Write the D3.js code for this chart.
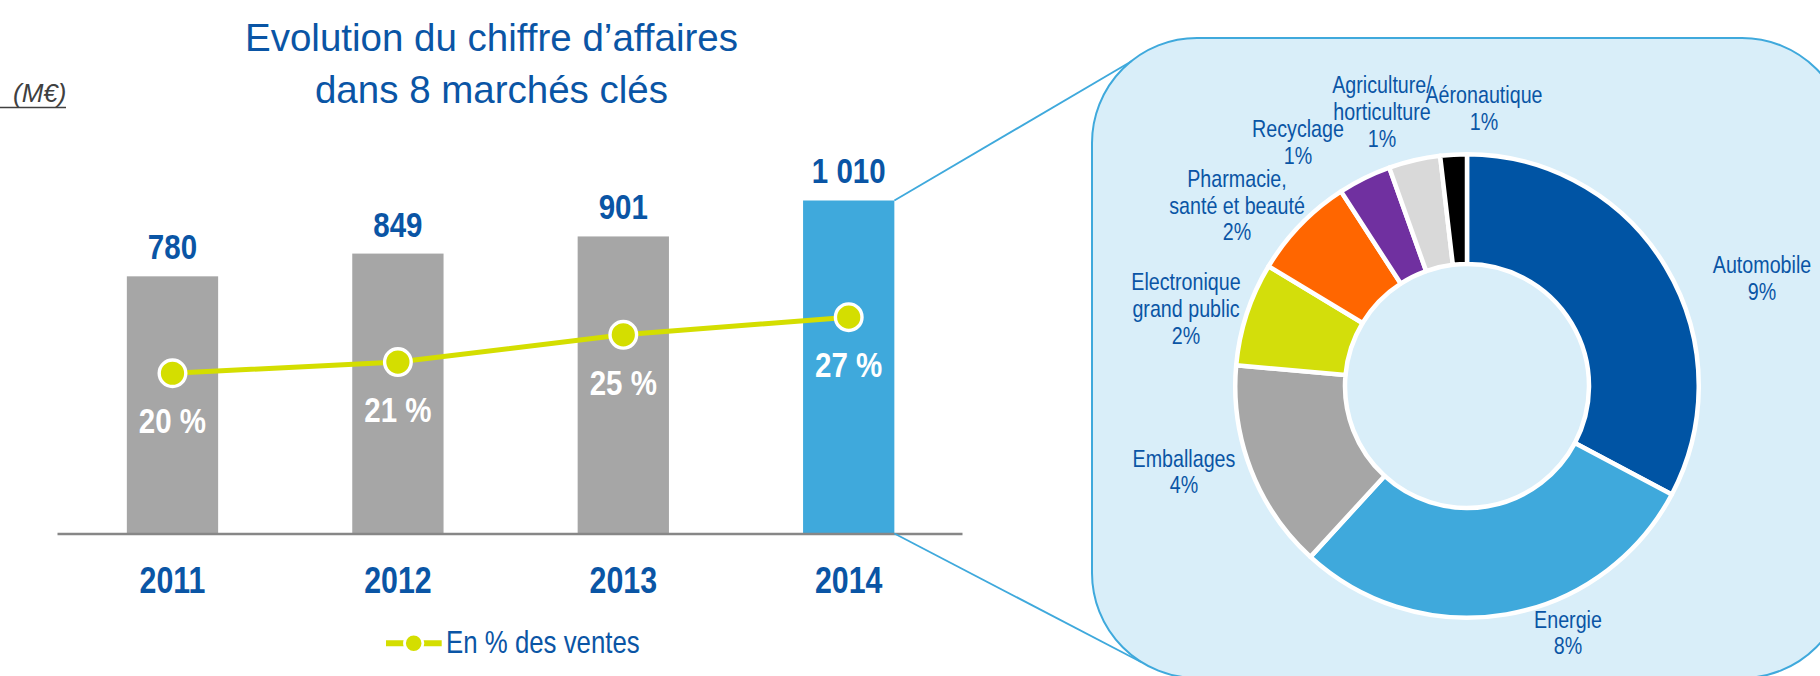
<!DOCTYPE html>
<html>
<head>
<meta charset="utf-8">
<script src="https://cdn.jsdelivr.net/npm/d3@7"></script>
<style>
  body { margin: 0; background: #fff; }
  svg { display: block; }
  text { font-family: "Liberation Sans", Arial, sans-serif; }
  .narrow { font-family: "Liberation Sans Narrow", "Arial Narrow", "Liberation Sans", sans-serif; }
</style>
</head>
<body>
<div id="chart"></div>
<script>
// revenue in the 8 key markets (M€), and that revenue as % of total sales
const years = ["2011", "2012", "2013", "2014"];
const sales = [780, 849, 901, 1010];
const salesLabels = ["780", "849", "901", "1 010"];
const pctOfSales = [20.0, 21.4, 24.8, 27.0];

// 2014 split by market, in % of total sales
const markets = [
  "Automobile",
  "Energie",
  "Emballages",
  "Electronique\ngrand public",
  "Pharmacie,\nsanté et beauté",
  "Recyclage",
  "Agriculture/\nhorticulture",
  "Aéronautique",
];
const marketValues = [8.85, 7.85, 3.95, 1.95, 1.95, 1.0, 0.97, 0.5];
const marketLabels = ["9%", "8%", "4%", "2%", "2%", "1%", "1%", "1%"];
const marketColors = ["#0054a4", "#3fa9dc", "#a6a6a6", "#d3de0b", "#ff6600", "#7030a0", "#d9d9d9", "#000000"];

const blueText = "#0a55a5";
const W = 1820, H = 676;
const baseY = 533.5; // x axis line

const svg = d3.select("#chart").append("svg")
  .attr("width", W)
  .attr("height", H);

// ---------- left: bar + line chart ----------
const x = d3.scaleBand().domain(years).range([57, 962])
  .paddingInner(0.595).paddingOuter(0.305).align(0.508);
const y = d3.scaleLinear().domain([0, d3.max(sales)]).range([baseY, 200.5]);
const yPct = d3.scaleLinear().domain([0, 40]).range([baseY, baseY - 320.5]);
const cx = (d) => x(d) + x.bandwidth() / 2;

// title
svg.append("text")
  .attr("x", 491.5)
  .attr("text-anchor", "middle")
  .style("font-size", "38.5px")
  .attr("fill", blueText)
  .selectAll("tspan")
  .data(["Evolution du chiffre d’affaires", "dans 8 marchés clés"])
  .join("tspan")
  .attr("x", 491.5)
  .attr("y", (d, i) => 50.7 + i * 52.6)
  .text((d) => d);

// unit
svg.append("text")
  .attr("x", 13)
  .attr("y", 102)
  .style("font-size", "26px")
  .style("font-style", "italic")
  .attr("fill", "#404040")
  .text("(M€)");
svg.append("line")
  .attr("x1", 0).attr("x2", 66)
  .attr("y1", 107.5).attr("y2", 107.5)
  .attr("stroke", "#404040")
  .attr("stroke-width", 1.5);

// bars
svg.append("g")
  .selectAll("rect")
  .data(sales)
  .join("rect")
  .attr("x", (d, i) => x(years[i]))
  .attr("y", (d) => y(d))
  .attr("width", x.bandwidth())
  .attr("height", (d) => baseY - y(d))
  .attr("fill", (d, i) => (i === years.length - 1 ? "#3fa9dc" : "#a6a6a6"));

// value labels above bars
svg.append("g")
  .selectAll("text")
  .data(sales)
  .join("text")
  .attr("class", "narrow")
  .attr("x", (d, i) => cx(years[i]))
  .attr("y", (d) => y(d) - 17)
  .attr("text-anchor", "middle")
  .style("font-size", "36px")
  .style("font-weight", "bold")
  .attr("fill", blueText)
  .text((d, i) => salesLabels[i]);

// x axis with the years
const xAxis = svg.append("g")
  .attr("transform", `translate(0,${baseY})`)
  .call(d3.axisBottom(x).tickSize(0).tickSizeOuter(0));
xAxis.select(".domain").attr("stroke", "#878787").attr("stroke-width", 2.3);
xAxis.selectAll("text")
  .attr("class", "narrow")
  .attr("y", 593.3 - baseY)
  .attr("dy", 0)
  .attr("font-family", null)
  .attr("font-size", null)
  .style("font-size", "37px")
  .style("font-weight", "bold")
  .attr("fill", blueText);

// % of sales line
const line = d3.line()
  .x((d, i) => cx(years[i]))
  .y((d) => yPct(d));

svg.append("path")
  .datum(pctOfSales)
  .attr("d", line)
  .attr("fill", "none")
  .attr("stroke", "#d4de00")
  .attr("stroke-width", 5);

svg.append("g")
  .selectAll("circle")
  .data(pctOfSales)
  .join("circle")
  .attr("cx", (d, i) => cx(years[i]))
  .attr("cy", (d) => yPct(d))
  .attr("r", 13.3)
  .attr("fill", "#d4de00")
  .attr("stroke", "#fff")
  .attr("stroke-width", 3.4);

svg.append("g")
  .selectAll("text")
  .data(pctOfSales)
  .join("text")
  .attr("class", "narrow")
  .attr("x", (d, i) => cx(years[i]))
  .attr("y", (d) => yPct(d) + 60)
  .attr("text-anchor", "middle")
  .style("font-size", "36px")
  .style("font-weight", "bold")
  .attr("fill", "#fff")
  .text((d) => `${Math.round(d)} %`);

// legend
const legend = svg.append("g").attr("transform", "translate(386,643.3)");
legend.append("line")
  .attr("x1", 0).attr("x2", 55.7)
  .attr("stroke", "#d4de00")
  .attr("stroke-width", 6);
legend.append("circle")
  .attr("cx", 27.7)
  .attr("r", 9.2)
  .attr("fill", "#d4de00")
  .attr("stroke", "#fff")
  .attr("stroke-width", 2.8);
legend.append("text")
  .attr("class", "narrow")
  .attr("x", 60)
  .attr("y", 9.4)
  .style("font-size", "31.5px")
  .attr("fill", blueText)
  .text("En % des ventes");

// ---------- right: zoom panel with the 2014 donut ----------
const barRight = x("2014") + x.bandwidth();
svg.append("rect")
  .attr("x", 1092).attr("y", 38)
  .attr("width", 755).attr("height", 640)
  .attr("rx", 105)
  .attr("fill", "#d9eef9")
  .attr("stroke", "#3fa9dc")
  .attr("stroke-width", 2);

// connectors from the 2014 bar to the panel
svg.append("g")
  .selectAll("line")
  .data([[y(sales[3]), 1132, 61], [baseY, 1141, 662]])
  .join("line")
  .attr("x1", barRight)
  .attr("y1", (d) => d[0])
  .attr("x2", (d) => d[1])
  .attr("y2", (d) => d[2])
  .attr("stroke", "#3fa9dc")
  .attr("stroke-width", 1.8);

const pieCx = 1467, pieCy = 386;
const pie = d3.pie().sort(null).value((d) => d);
const arc = d3.arc().innerRadius(122).outerRadius(231.75);
const pieG = svg.append("g").attr("transform", `translate(${pieCx},${pieCy})`);

pieG.selectAll("path")
  .data(pie(marketValues))
  .join("path")
  .attr("d", arc)
  .attr("fill", (d, i) => marketColors[i])
  .attr("stroke", "#fff")
  .attr("stroke-width", 4.5)
  .attr("stroke-linejoin", "round");

// label anchors (centre x, first baseline) relative to the donut centre,
// as placed in the original slide
const labelSpots = [
  [295, -112.7],
  [101, 241.7],
  [-283, 80.7],
  [-281, -96],
  [-230, -199.3],
  [-169, -248.7],
  [-85, -292.7],
  [17, -282.7],
];

pieG.selectAll("text")
  .data(markets)
  .join("text")
  .attr("class", "narrow")
  .attr("text-anchor", "middle")
  .style("font-size", "24px")
  .attr("fill", blueText)
  .attr("x", (d, i) => labelSpots[i][0])
  .each(function (d, i) {
    const lines = d.split("\n").concat(marketLabels[i]);
    d3.select(this)
      .selectAll("tspan")
      .data(lines)
      .join("tspan")
      .attr("x", labelSpots[i][0])
      .attr("y", (t, j) => labelSpots[i][1] + j * 26.8)
      .text((t) => t);
  });

// if no narrow face is installed, squeeze the regular one
(function () {
  const a = svg.append("text").attr("class", "narrow").style("font-size", "100px").text("MMMMMMMM");
  const b = svg.append("text").style("font-size", "100px").text("MMMMMMMM");
  const ratio = a.node().getComputedTextLength() / b.node().getComputedTextLength();
  a.remove();
  b.remove();
  if (ratio > 0.9) {
    svg.selectAll("text.narrow").each(function () {
      const x0 = +d3.select(this).attr("x") || 0;
      d3.select(this).attr("transform", `translate(${x0},0) scale(0.82,1) translate(${-x0},0)`);
    });
  }
})();
</script>
</body>
</html>
